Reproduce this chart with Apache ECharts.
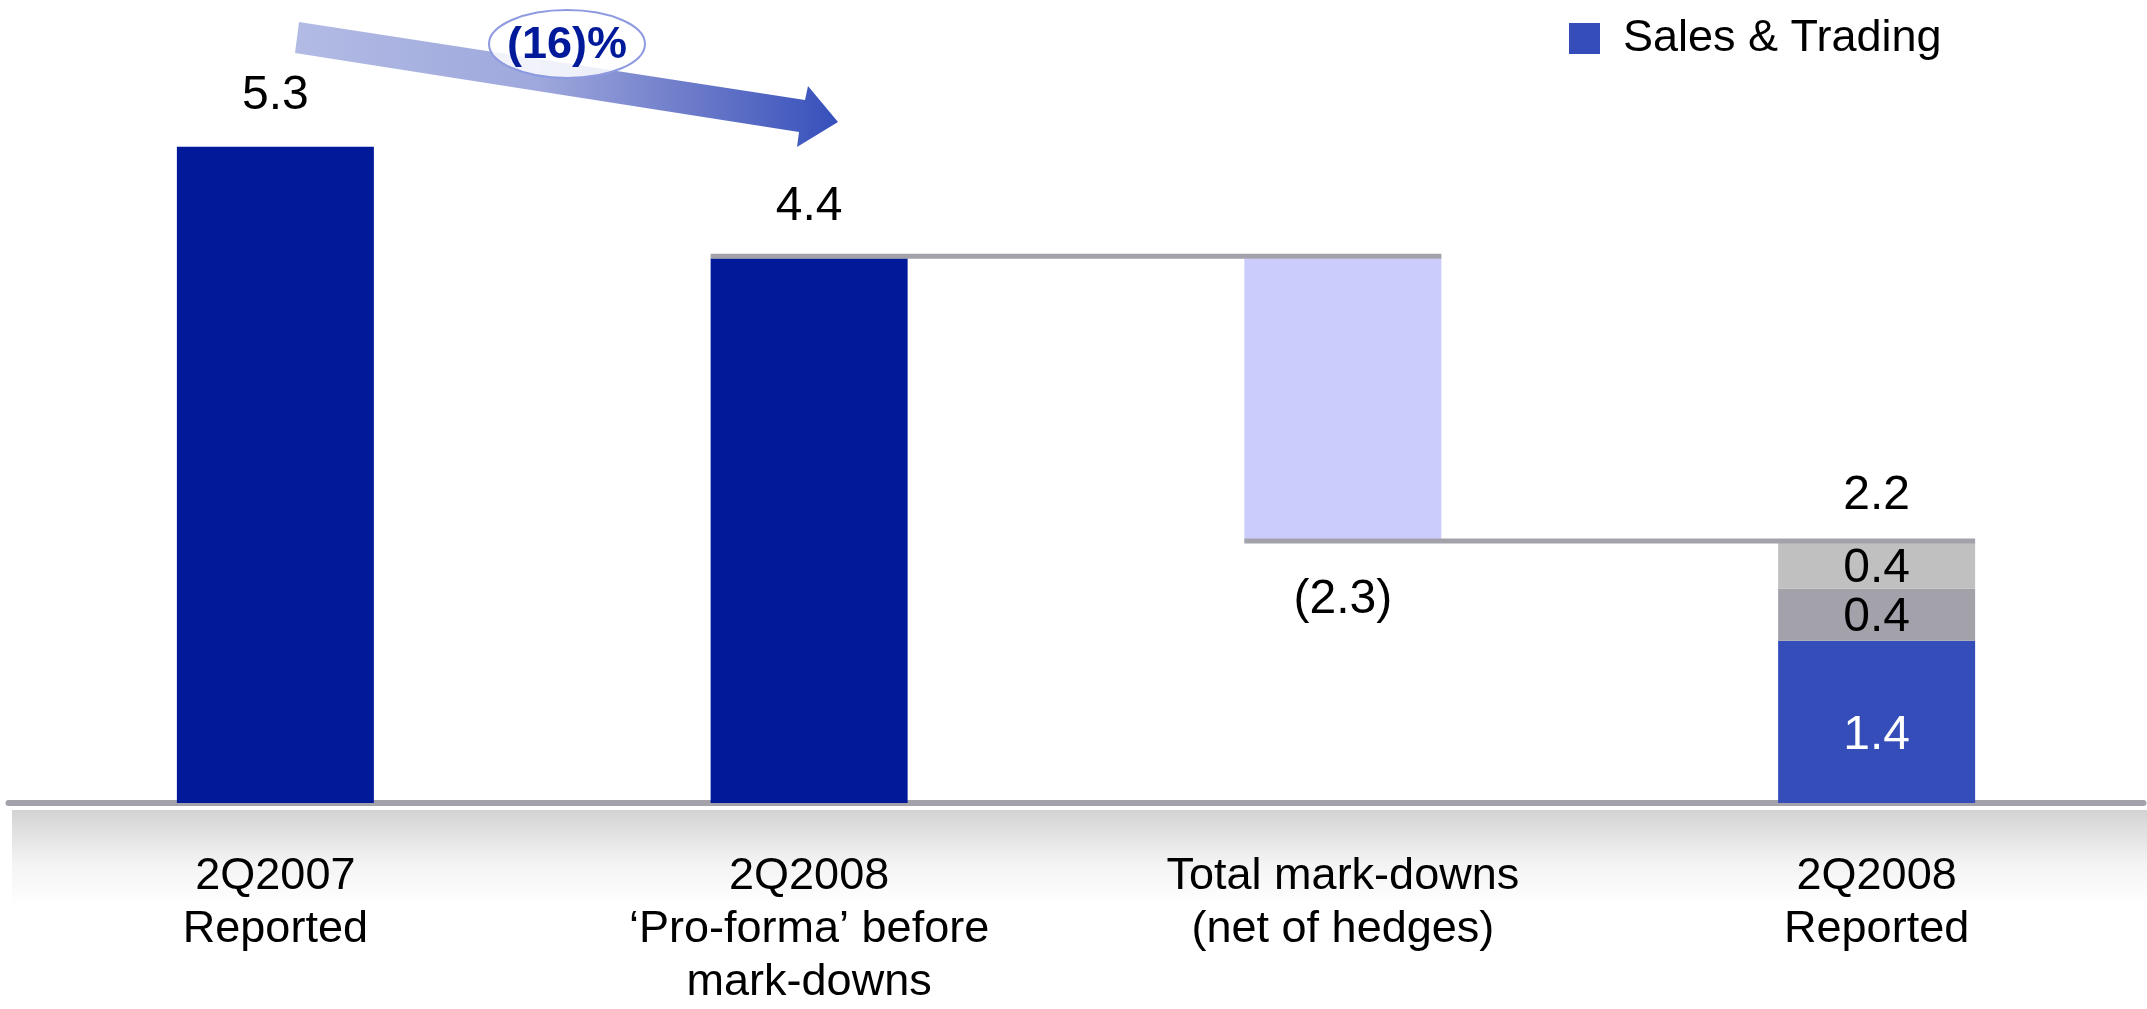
<!DOCTYPE html>
<html>
<head>
<meta charset="utf-8">
<script src="https://cdn.jsdelivr.net/npm/echarts@6/dist/echarts.min.js"></script>
<style>
html,body{margin:0;padding:0;background:#fff;}
#chart{width:2147px;height:1009px;}
</style>
</head>
<body>
<div id="chart"></div>
<script>
// ---- data ----
const categories = ['2Q2007\nReported', '2Q2008\n\u2018Pro-forma\u2019 before\nmark-downs', 'Total mark-downs\n(net of hedges)', '2Q2008\nReported'];
const reportedValues = [5.3, 4.4, '-', '-'];
const markdownValues = ['-', '-', 2.3, '-'];
const salesTradingValues = ['-', '-', '-', 1.31];
const otherAValues = ['-', '-', '-', 0.42];
const otherBValues = ['-', '-', '-', 0.37];
const reportedLabels = ['5.3', '4.4', '', ''];
const markdownLabels = ['', '', '(2.3)', ''];
const salesTradingLabels = ['', '', '', '1.4'];
const otherALabels = ['', '', '', '0.4'];
const otherBLabels = ['', '', '', '0.4'];
const totalLabels = ['', '', '', '2.2'];
const changeLabel = '(16)%';

// derived
const proForma = reportedValues[1];
const afterMarkdown = +(proForma - markdownValues[2]).toFixed(2);
const baseValues = ['-', '-', afterMarkdown, '-'];
const totalValues = ['-', '-', '-', afterMarkdown];
const connectors = [[1, 2, proForma], [2, 3, afterMarkdown]];

const FONT = '"Liberation Sans", Arial, Helvetica, sans-serif';
const BAR_W = 197;

const chart = echarts.init(document.getElementById('chart'), null, {renderer: 'canvas'});

function lbl(arr, extra) {
  return Object.assign({
    show: true,
    fontFamily: FONT,
    fontSize: 48,
    lineHeight: 48,
    color: '#000',
    formatter: p => arr[p.dataIndex]
  }, extra || {});
}

const option = {
  animation: false,
  backgroundColor: '#ffffff',
  textStyle: {fontFamily: FONT},
  grid: {left: 8.5, right: 3.5, top: 60, bottom: 205, containLabel: false},
  legend: {
    data: ['Sales & Trading'],
    left: 1569,
    top: 16,
    padding: 0,
    icon: 'rect',
    itemWidth: 31,
    itemHeight: 31,
    textStyle: {fontFamily: FONT, fontSize: 45, lineHeight: 45, color: '#000', padding: [0, 0, 0, 18]},
    selectedMode: false
  },
  xAxis: {
    type: 'category',
    data: categories,
    offset: 3,
    axisTick: {show: false},
    axisLine: {show: true, lineStyle: {color: '#a3a2ab', width: 6}},
    axisLabel: {interval: 0, margin: 44, fontFamily: FONT, fontSize: 45, lineHeight: 53, color: '#000'},
    splitLine: {show: false}
  },
  yAxis: {
    type: 'value', min: 0, max: 6,
    show: false,
    splitLine: {show: false}
  },
  graphic: [
    {
      type: 'rect', z: -10, silent: true,
      shape: {x: 12, y: 810, width: 2135, height: 95},
      style: {fill: new echarts.graphic.LinearGradient(0, 0, 0, 1, [
        {offset: 0, color: '#d3d3d3'}, {offset: 0.55, color: '#f3f3f3'}, {offset: 1, color: '#ffffff'}])}
    },
    {
      type: 'polygon', z: 10, silent: true,
      shape: {points: [[299, 22], [805, 100], [808, 86], [838, 122], [797, 147], [799, 132], [295, 53]]},
      style: {fill: new echarts.graphic.LinearGradient(0, 0, 1, 0, [
        {offset: 0, color: '#b2bbe4'}, {offset: 0.45, color: '#9ea8dc'}, {offset: 0.75, color: '#6877c8'}, {offset: 1, color: '#3650bb'}])}
    },
    {
      type: 'ellipse', z: 11, silent: true,
      shape: {cx: 567, cy: 44, rx: 78, ry: 34},
      style: {fill: 'rgba(255,255,255,0.85)', stroke: '#8e9ae0', lineWidth: 2}
    },
    {
      type: 'text', z: 12, silent: true,
      x: 567, y: 46,
      style: {text: changeLabel, fill: '#001a9a', font: 'bold 45px ' + FONT, align: 'center', verticalAlign: 'middle'}
    }
  ],
  series: [
    {
      name: 'base', type: 'bar', stack: 'w', barWidth: BAR_W, silent: true,
      itemStyle: {color: 'rgba(0,0,0,0)'},
      data: baseValues
    },
    {
      name: 'Reported', type: 'bar', stack: 'w', barWidth: BAR_W,
      itemStyle: {color: '#001a9a'},
      label: lbl(reportedLabels, {position: 'top', distance: 27}),
      data: reportedValues
    },
    {
      name: 'Mark-downs', type: 'bar', stack: 'w', barWidth: BAR_W,
      itemStyle: {color: '#ccccfc'},
      label: lbl(markdownLabels, {position: 'bottom', distance: 33}),
      data: markdownValues
    },
    {
      name: 'Sales & Trading', type: 'bar', stack: 'w', barWidth: BAR_W,
      itemStyle: {color: '#344db9'},
      label: lbl(salesTradingLabels, {position: 'inside', color: '#ffffff', offset: [0, 14]}),
      data: salesTradingValues
    },
    {
      name: 'Other A', type: 'bar', stack: 'w', barWidth: BAR_W,
      itemStyle: {color: '#a3a2ab'},
      label: lbl(otherALabels, {position: 'inside', offset: [0, 3]}),
      data: otherAValues
    },
    {
      name: 'Other B', type: 'bar', stack: 'w', barWidth: BAR_W,
      itemStyle: {color: '#c0c0c0'},
      label: lbl(otherBLabels, {position: 'inside', offset: [0, 3]}),
      data: otherBValues
    },
    {
      name: 'Total', type: 'bar', barWidth: BAR_W, barGap: '-100%', silent: true,
      itemStyle: {color: 'rgba(0,0,0,0)'},
      label: lbl(totalLabels, {position: 'top', distance: 23}),
      data: totalValues
    },
    {
      name: 'connectors', type: 'custom', z: 5, silent: true,
      encode: {x: [0, 1], y: 2},
      data: connectors,
      renderItem: function (params, api) {
        const p1 = api.coord([api.value(0), api.value(2)]);
        const p2 = api.coord([api.value(1), api.value(2)]);
        const half = BAR_W / 2;
        const y = p1[1] - 2;
        return {
          type: 'line',
          shape: {x1: p1[0] - half, y1: y, x2: p2[0] + half, y2: y},
          style: {stroke: '#a3a2ab', lineWidth: 5}
        };
      }
    }
  ]
};
chart.setOption(option);
</script>
</body>
</html>
